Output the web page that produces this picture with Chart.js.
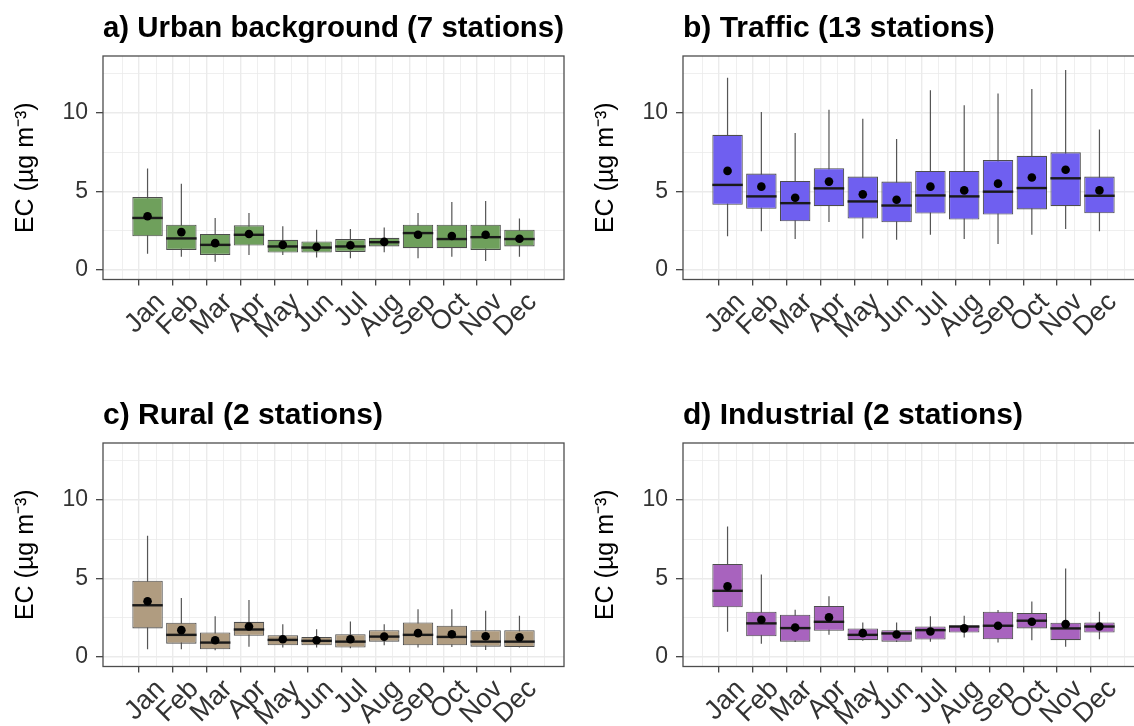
<!DOCTYPE html>
<html><head><meta charset="utf-8">
<script src="https://cdn.jsdelivr.net/npm/chart.js@4"></script>
<style>
html,body{margin:0;padding:0;background:#fff;}
body{width:1134px;height:726px;overflow:hidden;position:relative;}
canvas{position:absolute;}
</style></head><body>
<canvas id="pa" width="580" height="360" style="left:0px;top:0px"></canvas>
<canvas id="pb" width="580" height="360" style="left:580px;top:0px"></canvas>
<canvas id="pc" width="580" height="360" style="left:0px;top:387px"></canvas>
<canvas id="pd" width="580" height="360" style="left:580px;top:387px"></canvas>
<script>
const months = ['Jan','Feb','Mar','Apr','May','Jun','Jul','Aug','Sep','Oct','Nov','Dec'];
const monthPos = [1,2,3,4,5,6,7,8,9,10,11,12];
const xBreaks = [0.5,1,1.5,2,2.5,3,3.5,4,4.5,5,5.5,6,6.5,7,7.5,8,8.5,9,9.5,10,10.5,11,11.5,12,12.5];
const yBreaks = [0,2.5,5,7.5,10,12.5];
const yLabels = ['0','','5','','10',''];

// a) Urban background
const urbanLow    = [1.03,0.85,0.53,0.96,0.96,0.79,0.75,1.13,0.75,0.85,0.58,0.85];
const urbanQ1     = [2.14,1.28,0.96,1.56,1.11,1.11,1.15,1.50,1.39,1.39,1.28,1.50];
const urbanMedian = [3.31,2.01,1.60,2.24,1.50,1.43,1.50,1.77,2.35,1.97,2.09,1.97];
const urbanQ3     = [4.64,2.88,2.29,2.84,1.92,1.82,1.97,2.05,2.88,2.88,2.88,2.56];
const urbanHigh   = [6.45,5.49,3.31,3.63,2.78,2.56,2.61,2.71,3.63,4.32,4.38,3.27];
const urbanMean   = [3.42,2.41,1.71,2.29,1.60,1.47,1.58,1.79,2.24,2.16,2.24,1.99];

// b) Traffic
const trafficLow    = [2.14,2.46,1.97,3.06,2.01,1.92,2.24,1.97,1.65,2.24,2.61,2.46];
const trafficQ1     = [4.15,3.89,3.10,4.06,3.27,3.03,3.59,3.21,3.53,3.85,4.06,3.61];
const trafficMedian = [5.41,4.68,4.25,5.19,4.36,4.10,4.74,4.68,4.98,5.21,5.83,4.72];
const trafficQ3     = [8.59,6.13,5.66,6.47,5.94,5.62,6.30,6.30,6.99,7.26,7.48,5.94];
const trafficHigh   = [12.22,10.04,8.70,10.19,9.62,8.33,11.43,10.47,11.22,11.50,12.71,8.93];
const trafficMean   = [6.30,5.30,4.59,5.62,4.81,4.47,5.30,5.06,5.49,5.88,6.37,5.06];

// c) Rural
const ruralLow    = [0.49,0.49,0.43,0.66,0.60,0.60,0.56,0.75,0.60,0.64,0.45,0.60];
const ruralQ1     = [1.82,0.85,0.49,1.35,0.75,0.75,0.60,0.98,0.75,0.75,0.66,0.64];
const ruralMedian = [3.29,1.41,0.92,1.75,1.09,1.03,0.98,1.30,1.41,1.28,0.98,0.98];
const ruralQ3     = [4.85,2.18,1.56,2.24,1.39,1.28,1.45,1.71,2.20,1.99,1.71,1.71];
const ruralHigh   = [7.71,3.76,2.59,3.63,2.09,1.77,2.26,2.09,3.03,3.03,2.95,2.63];
const ruralMean   = [3.55,1.71,1.07,1.94,1.13,1.07,1.13,1.30,1.52,1.45,1.32,1.26];

// d) Industrial
const industrialLow    = [1.60,0.85,0.96,1.41,1.03,0.96,0.98,1.24,0.92,1.07,0.66,1.13];
const industrialQ1     = [3.16,1.32,0.98,1.67,1.07,0.98,1.11,1.56,1.13,1.82,1.07,1.56];
const industrialMedian = [4.21,2.14,1.84,2.24,1.41,1.50,1.71,1.94,1.99,2.31,1.82,1.94];
const industrialQ3     = [5.92,2.88,2.69,3.25,1.82,1.71,1.94,2.01,2.88,2.80,2.18,2.20];
const industrialHigh   = [8.29,5.24,3.01,3.87,2.20,2.20,2.59,2.63,2.99,3.53,5.62,2.88];
const industrialMean   = [4.49,2.37,1.88,2.52,1.52,1.43,1.62,1.82,1.99,2.24,2.09,1.94];

const FONT = "'Liberation Sans', Arial, Helvetica, sans-serif";
Chart.defaults.font.family = FONT;

const boxPlugin = {
  id: 'boxExtras',
  beforeDatasetsDraw(chart) {
    const ds = chart.data.datasets.find(d => d.whiskers);
    if (!ds) return;
    const ctx = chart.ctx, xs = chart.scales.x, ys = chart.scales.y;
    const a = chart.chartArea;
    ctx.save();
    ctx.beginPath();
    ctx.rect(a.left, a.top, a.right - a.left, a.bottom - a.top);
    ctx.clip();
    ctx.strokeStyle = '#555';
    ctx.lineWidth = 1.2;
    ds.whiskers.low.forEach((lo, i) => {
      const px = xs.getPixelForValue(monthPos[i]);
      ctx.beginPath();
      ctx.moveTo(px, ys.getPixelForValue(lo));
      ctx.lineTo(px, ys.getPixelForValue(ds.whiskers.high[i]));
      ctx.stroke();
    });
    ctx.restore();
  },
  afterDatasetDraw(chart, args) {
    const ds = chart.data.datasets[args.index];
    if (!ds.medians) return;
    const ctx = chart.ctx, ys = chart.scales.y;
    ctx.save();
    ctx.strokeStyle = '#1a1a1a';
    ctx.lineWidth = 2.4;
    args.meta.data.forEach((bar, i) => {
      const py = ys.getPixelForValue(ds.medians[i]);
      ctx.beginPath();
      ctx.moveTo(bar.x - bar.width / 2, py);
      ctx.lineTo(bar.x + bar.width / 2, py);
      ctx.stroke();
    });
    ctx.restore();
  },
  afterDatasetsDraw(chart) {
    const a = chart.chartArea, ctx = chart.ctx;
    ctx.save();
    ctx.strokeStyle = '#4d4d4d';
    ctx.lineWidth = 1.3;
    ctx.strokeRect(a.left, a.top, a.right - a.left, a.bottom - a.top);
    ctx.restore();
  }
};

function makePanel(id, title, fill, low, q1, med, q3, high, mean) {
  new Chart(document.getElementById(id), {
    type: 'bar',
    data: {
      datasets: [
        {
          type: 'bar', label: 'box',
          data: monthPos.map((x, i) => ({x: x, y: [q1[i], q3[i]]})),
          backgroundColor: fill, borderColor: '#4d4d4d', borderWidth: 1.1,
          borderSkipped: false,
          // bar ruler uses the half-month grid breaks, so 1.8 x half = 0.9 month
          barPercentage: 1.8, categoryPercentage: 1,
          order: 1, medians: med, whiskers: {low: low, high: high}
        },
        {
          type: 'line', label: 'mean',
          data: monthPos.map((x, i) => ({x: x, y: mean[i]})),
          showLine: false, pointRadius: 4.3, pointBackgroundColor: '#000',
          pointBorderWidth: 0, order: 0
        }
      ]
    },
    options: {
      responsive: false, animation: false, devicePixelRatio: 1,
      layout: {padding: {left: 0, right: 16, top: 10.6, bottom: 0}},
      plugins: {
        legend: {display: false},
        tooltip: {enabled: false},
        title: {
          display: true, text: title, align: 'start', fullSize: false,
          color: '#000', font: {size: 30, weight: 'bold', family: FONT},
          padding: {top: 0, bottom: 9.4}
        }
      },
      scales: {
        x: {
          type: 'linear', min: -0.045, max: 13.045,
          afterBuildTicks: s => { s.ticks = xBreaks.map(v => ({value: v})); },
          afterFit: s => { s.height = 80.5; },
          ticks: {
            autoSkip: false, minRotation: 45, maxRotation: 45, padding: 1,
            labelOffset: 13,
            color: '#333', font: {size: 27, family: FONT},
            callback: v => { const k = monthPos.indexOf(v); return k >= 0 ? months[k] : ''; }
          },
          grid: {
            color: '#ebebeb',
            lineWidth: c => (c.tick && Number.isInteger(c.tick.value)) ? 1.4 : 0.8,
            tickColor: c => (c.tick && Number.isInteger(c.tick.value)) ? '#333' : 'rgba(0,0,0,0)',
            tickLength: 6, tickWidth: 1.2
          },
          border: {display: false}
        },
        y: {
          min: -0.6, max: 13.6,
          afterBuildTicks: s => { s.ticks = yBreaks.map(v => ({value: v})); },
          afterFit: s => { s.width = 103; },
          ticks: {
            padding: 8, color: '#333', font: {size: 23, family: FONT},
            callback: v => { const k = yBreaks.indexOf(v); return k >= 0 ? yLabels[k] : ''; }
          },
          grid: {
            color: '#ebebeb',
            lineWidth: c => (c.tick && c.tick.value % 5 === 0) ? 1.4 : 0.8,
            tickColor: c => (c.tick && c.tick.value % 5 === 0) ? '#333' : 'rgba(0,0,0,0)',
            tickLength: 7, tickWidth: 1.2
          },
          border: {display: false},
          title: {
            display: true, text: 'EC (µg m⁻³)', color: '#000',
            font: {size: 25, family: FONT}, padding: {top: 11, bottom: 0}
          }
        }
      }
    },
    plugins: [boxPlugin]
  });
}

makePanel('pa', 'a) Urban background (7 stations)', '#6fa05c',
  urbanLow, urbanQ1, urbanMedian, urbanQ3, urbanHigh, urbanMean);
makePanel('pb', 'b) Traffic (13 stations)', '#6f5ff0',
  trafficLow, trafficQ1, trafficMedian, trafficQ3, trafficHigh, trafficMean);
makePanel('pc', 'c) Rural (2 stations)', '#b09c80',
  ruralLow, ruralQ1, ruralMedian, ruralQ3, ruralHigh, ruralMean);
makePanel('pd', 'd) Industrial (2 stations)', '#a863be',
  industrialLow, industrialQ1, industrialMedian, industrialQ3, industrialHigh, industrialMean);
</script>
</body></html>
